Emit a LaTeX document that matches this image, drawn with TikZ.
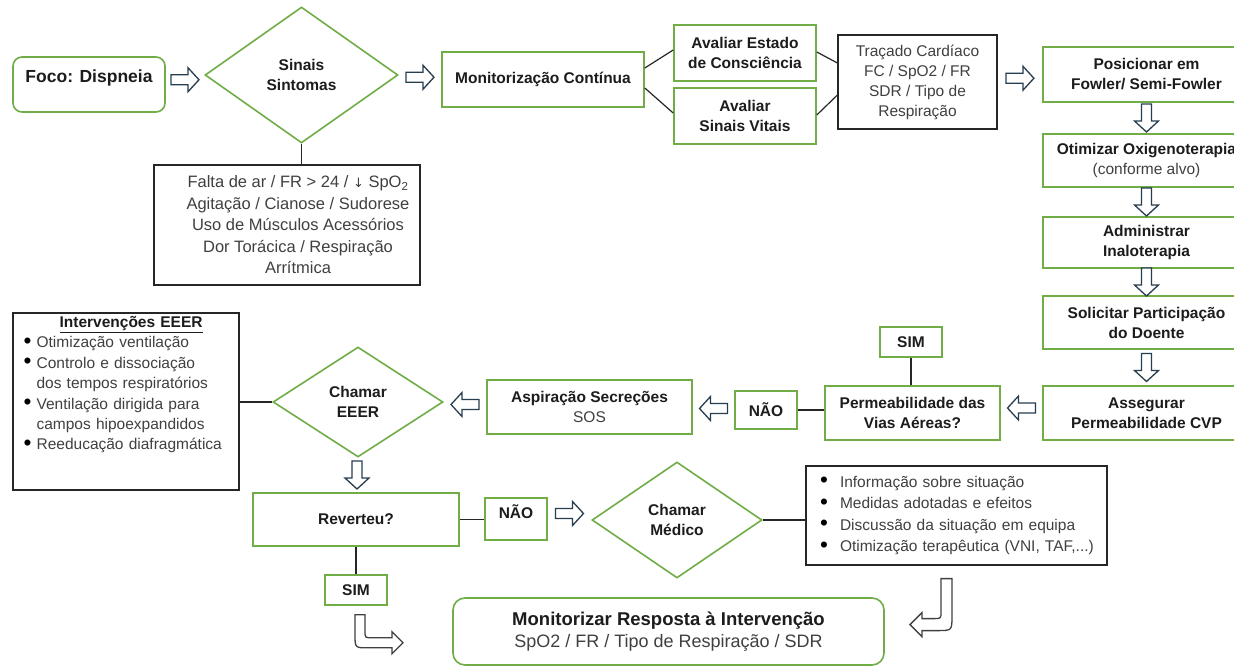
\documentclass[tikz,border=0pt]{standalone}
\usepackage{fontspec}
\usepackage{graphicx}
\setmainfont{Liberation Sans}
\newfontfamily\dejavu{DejaVu Sans}
\usetikzlibrary{shapes.geometric,calc}
\definecolor{gr}{RGB}{112,173,71}
\definecolor{arrc}{RGB}{38,62,80}
\definecolor{tb}{RGB}{28,28,28}
\definecolor{tr}{RGB}{64,64,64}
\newcommand{\fB}{\bfseries\fontsize{15.5}{20}\selectfont}
\newcommand{\fR}{\fontsize{15.5}{20}\selectfont}
\newcommand{\blk}[2]{\draw[blockarr, shift={(#1)}, rotate=#2] (-14,-5) -- (3,-5) -- (3,-12) -- (14,0) -- (3,12) -- (3,5) -- (-14,5) -- cycle;}
\newcommand{\bigdot}{{\color{black}\raisebox{-0.6pt}{\scalebox{1.45}{\textbullet}}}}
\newcommand{\bl}{\hspace*{10pt}\makebox[20pt][l]{\bigdot}}
\newcommand{\ib}{\makebox[13pt][l]{\bigdot}}
\tikzset{
  gbox/.style={draw=gr, line width=1.6pt, fill=white, align=center, text=tb, font=\fB, inner sep=2pt},
  kbox/.style={draw=black!85, line width=1.2pt, fill=white, align=center, text=tr, font=\fR, inner sep=2pt},
  gdia/.style={gbox, diamond, inner sep=0pt},
  lnk/.style={draw=black!85, line width=1.2pt},
  blockarr/.style={draw=arrc, line width=1.3pt, fill=white, line join=miter},
  bentarr/.style={draw=black!75, line width=1.3pt, fill=white, line join=miter},
}
\begin{document}
\begin{tikzpicture}[x=1pt,y=-1pt]
\useasboundingbox (0,0) rectangle (1234,666);
\fill[white] (0,0) rectangle (1234,666);
\clip (0,0) rectangle (1234,666);

% top row
\node[gbox, rounded corners=9pt, minimum width=152pt, minimum height=55pt, text depth=16pt,
      font=\bfseries\fontsize{17.5}{21}\selectfont] (foco) at (89,84.5) {Foco: Dispneia};
\node[gdia, minimum width=193pt, minimum height=136pt] (sinais) at (301.5,75) {Sinais\\Sintomas};
\node[kbox, minimum width=266pt, minimum height=120pt] (sint) at (287,225) {};
\node[text=tr, font=\fontsize{16.5}{21.5}\selectfont, align=center, inner sep=0pt] (sintT) at ($(sint.center)+(11,0)$)
  {Falta de ar / FR > 24 / {\dejavu\fontsize{13}{15}\selectfont ↓} SpO\textsubscript{2}\\Agitação / Cianose / Sudorese\\Uso de Músculos Acessórios\\Dor Torácica / Respiração\\Arrítmica};
\node[gbox, minimum width=202pt, minimum height=55pt] (monit) at (543,79.5) {Monitorização Contínua};
\node[gbox, minimum width=142pt, minimum height=56pt] (aest) at (745,53) {Avaliar Estado\\de Consciência};
\node[gbox, minimum width=142pt, minimum height=56pt] (asv) at (745,116) {Avaliar\\Sinais Vitais};
\node[kbox, minimum width=159pt, minimum height=94pt] (trac) at (917.5,82) {Traçado Cardíaco\\FC / SpO2 / FR\\SDR / Tipo de\\Respiração};

% right column
\node[gbox, minimum width=207pt, minimum height=55pt] (pos) at (1146.5,74.5) {Posicionar em\\Fowler/ Semi-Fowler};
\node[gbox, minimum width=207pt, minimum height=53pt] (oxi) at (1146.5,160.5) {Otimizar Oxigenoterapia\\{\mdseries\color{tr}(conforme alvo)}};
\node[gbox, minimum width=207pt, minimum height=51pt] (adm) at (1146.5,242.5) {Administrar\\Inaloterapia};
\node[gbox, minimum width=207pt, minimum height=53pt] (sol) at (1146.5,322.5) {Solicitar Participação\\do Doente};
\node[gbox, minimum width=207pt, minimum height=54pt] (ass) at (1146.5,413) {Assegurar\\Permeabilidade CVP};

% middle row
\node[gbox, minimum width=175pt, minimum height=54pt] (perm) at (912.5,413) {Permeabilidade das\\Vias Aéreas?};
\node[gbox, minimum width=62pt, minimum height=30pt] (simtop) at (911,342) {SIM};
\node[gbox, minimum width=62pt, minimum height=38pt] (naotop) at (766,410) {NÃO};
\node[gbox, minimum width=205pt, minimum height=54pt] (asp) at (589.5,407) {Aspiração Secreções\\{\mdseries\color{tr}SOS}};
\node[gdia, minimum width=170pt, minimum height=110pt] (eeer) at (358,402) {Chamar\\EEER};
\node[kbox, minimum width=226pt, minimum height=177pt] (interv) at (126,401.5) {};
\node[anchor=base west, text width=215pt, inner sep=0pt, align=left, text=tr,
      font=\fontsize{15.5}{20.4}\selectfont] (intervT) at ($(interv.north west)+(11,15)$)
  {\makebox[\linewidth][c]{\color{tb}\bfseries\underline{Intervenções EEER}}\\
   \ib Otimização ventilação\\
   \ib Controlo e dissociação\\
   \hspace*{13pt}dos tempos respiratórios\\
   \ib Ventilação dirigida para\\
   \hspace*{13pt}campos hipoexpandidos\\
   \ib Reeducação diafragmática};

% bottom rows
\node[gbox, minimum width=206pt, minimum height=53pt] (rev) at (356,519.5) {Reverteu?};
\node[gbox, minimum width=62pt, minimum height=42pt, text depth=15pt] (naobot) at (516,519) {NÃO};
\node[gdia, minimum width=170pt, minimum height=116pt] (med) at (677,520) {Chamar\\Médico};
\node[kbox, minimum width=301pt, minimum height=99pt, text width=293pt, align=left,
      font=\fontsize{15.5}{21.5}\selectfont] (info) at (956.5,515.5)
  {\bl Informação sobre situação\\
   \bl Medidas adotadas e efeitos\\
   \bl Discussão da situação em equipa\\
   \bl Otimização terapêutica (VNI, TAF,...)};
\node[gbox, minimum width=62pt, minimum height=30pt] (simbot) at (356,590) {SIM};
\node[gbox, rounded corners=12pt, minimum width=431pt, minimum height=67pt,
      font=\bfseries\fontsize{18.5}{22}\selectfont] (monres) at (668.5,631.5)
  {Monitorizar Resposta à Intervenção\\{\mdseries\color{tr}\fontsize{18}{22}\selectfont SpO2 / FR / Tipo de Respiração / SDR}};

% connectors
\draw[lnk] (sinais.south) -- (sinais.south |- sint.north);
\draw[lnk] ($(monit.east)+(0,-11.5)$) -- ($(aest.west)+(0,-3)$);
\draw[lnk] ($(monit.east)+(0,8.5)$) -- ($(asv.west)+(0,-3)$);
\draw[lnk] ($(aest.east)+(0,-1)$) -- ($(trac.west)+(0,-19)$);
\draw[lnk] ($(asv.east)+(0,-1)$) -- ($(trac.west)+(0,13)$);
\draw[lnk] (simtop.south) -- (simtop.south |- perm.north);
\draw[lnk] (naotop.east) -- (naotop.east -| perm.west);
\draw[lnk] (eeer.west) -- (eeer.west -| interv.east);
\draw[lnk] (rev.east) -- (rev.east -| naobot.west);
\draw[lnk] (rev.south) -- (rev.south |- simbot.north);
\draw[lnk] (med.east) -- (med.east -| info.west);

% block arrows
\blk{$(foco.east)!.5!(sinais.west)$}{0}
\blk{$(sinais.east)!.5!(monit.west)$}{0}
\blk{$(trac.east)!.5!(pos.west)$}{0}
\blk{$(pos.south)!.5!(oxi.north)$}{-90}
\blk{$(oxi.south)!.5!(adm.north)$}{-90}
\blk{$(adm.south)!.5!(sol.north)$}{-90}
\blk{$(sol.south)!.5!(ass.north)$}{-90}
\blk{$(ass.west)!.5!(perm.east)+(0,-5)$}{180}
\blk{$(naotop.west)!.5!(asp.east)$}{180}
\blk{$(asp.west)!.5!(eeer.east)$}{180}
\blk{$(eeer.south)!.5!(rev.north)$}{-90}
\blk{$(naobot.east)!.5!(med.west)+(0,-6)$}{0}

% bent arrows
\draw[bentarr, shift={(simbot.south)}] (-1,9) -- (9,9) -- (9,25) .. controls (9,32) .. (16,32) -- (36,32) -- (36,26) -- (47,37) -- (36,48) -- (36,42) -- (12,42) .. controls (-1,42) .. (-1,29) -- cycle;
\draw[bentarr, shift={(info.south)}] (-15.5,13) -- (-4.5,13) -- (-4.5,50) .. controls (-4.5,65) .. (-19.5,65) -- (-34.5,65) -- (-34.5,71) -- (-46.5,59) -- (-34.5,47) -- (-34.5,53) -- (-22.5,53) .. controls (-15.5,53) .. (-15.5,46) -- cycle;
\end{tikzpicture}
\end{document}
